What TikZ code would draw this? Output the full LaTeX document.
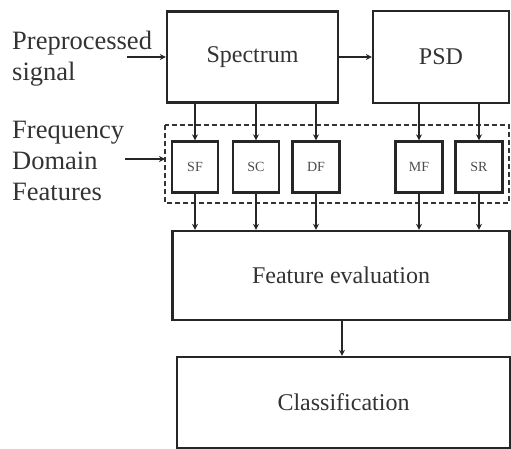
\documentclass[tikz,border=0pt]{standalone}
\usepackage{fontspec}
\setmainfont{Liberation Serif}
\usetikzlibrary{arrows.meta}
\begin{document}
\begin{tikzpicture}[x=1pt,y=-1pt,
  box/.style={draw=black!85, line width=2.4pt, inner sep=0pt},
  fbox/.style={draw=black!85, line width=2.4pt, inner sep=0pt, font=\fontsize{14}{15}\selectfont, text=black!70},
  lbl/.style={font=\fontsize{24}{26}\selectfont, text=black!80},
  side/.style={font=\fontsize{26.5}{31}\selectfont, text=black!80, align=left, inner sep=0pt, anchor=west},
  arr/.style={line width=2.2pt, draw=black!85, -{Stealth[length=6pt,width=6pt]}},
  dbox/.style={draw=black!80, line width=2.2pt, dash pattern=on 5pt off 3pt}]
\useasboundingbox (0,0) rectangle (511,449);
% main boxes
\node[box, minimum width=171pt, minimum height=91pt] (spec) at (252.5,57) {};
\node[lbl] at (spec) {Spectrum};
\node[box, minimum width=136pt, minimum height=92pt] (psd) at (441,57) {};
\node[lbl] at (psd) {PSD};
% dashed group
\draw[dbox] (165,125) rectangle (509,203);
\coordinate (dleft) at (165,159);
% feature boxes
\node[fbox, minimum width=46pt, minimum height=51pt] (sf) at (195,167) {SF};
\node[fbox, minimum width=46pt, minimum height=51pt] (sc) at (256,167) {SC};
\node[fbox, minimum width=47pt, minimum height=51pt] (df) at (316,167) {DF};
\node[fbox, minimum width=47pt, minimum height=51pt] (mf) at (419,167) {MF};
\node[fbox, minimum width=47pt, minimum height=51pt] (sr) at (479,167) {SR};
% lower boxes
\node[box, minimum width=337pt, minimum height=89pt] (fe) at (341,275.5) {};
\node[lbl] at (fe) {Feature evaluation};
\node[box, minimum width=333pt, minimum height=91pt] (cls) at (343.5,402.5) {};
\node[lbl] at (cls) {Classification};
% side labels
\node[side] (pre) at (12,59) {Preprocessed\\signal};
\node[side] (fdf) at (12,161) {Frequency\\Domain\\Features};
\coordinate (prearr) at (127,57);
\coordinate (fdfarr) at (125,159);
% connectors
\draw[arr] (prearr) -- (prearr -| spec.west);
\draw[arr] (spec.east) -- (psd.west);
\draw[arr] (fdfarr) -- (dleft);
\foreach \n in {sf,sc,df} {
  \draw[arr] (spec.south -| \n.north) -- (\n.north);
  \draw[arr] (\n.south) -- (fe.north -| \n.south);
}
\foreach \n in {mf,sr} {
  \draw[arr] (psd.south -| \n.north) -- (\n.north);
  \draw[arr] (\n.south) -- (fe.north -| \n.south);
}
\draw[arr] (fe.south -| 342,0) -- (cls.north -| 342,0);
\end{tikzpicture}
\end{document}
